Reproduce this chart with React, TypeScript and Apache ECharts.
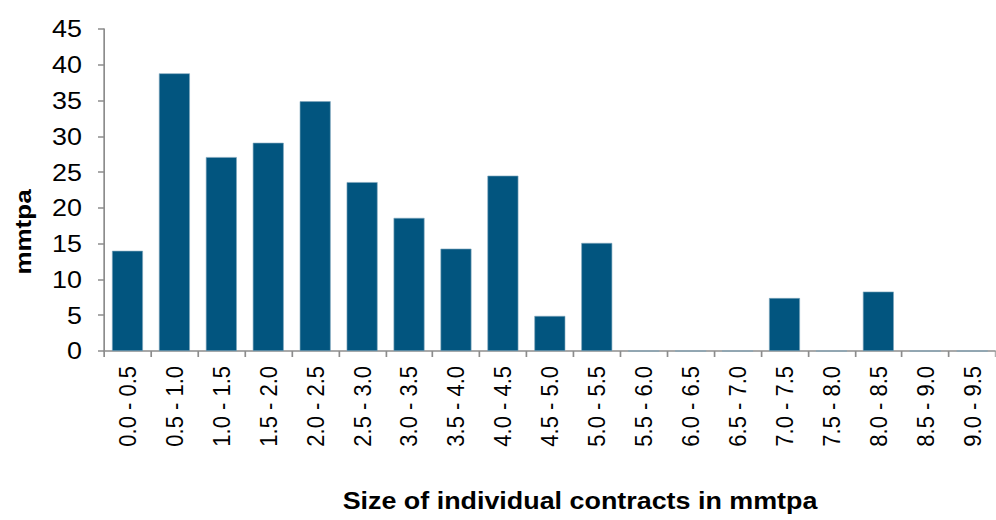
import React, { useEffect, useRef } from "react";
import * as echarts from "echarts";

const categories = [
  "0.0 - 0.5", "0.5 - 1.0", "1.0 - 1.5", "1.5 - 2.0", "2.0 - 2.5",
  "2.5 - 3.0", "3.0 - 3.5", "3.5 - 4.0", "4.0 - 4.5", "4.5 - 5.0",
  "5.0 - 5.5", "5.5 - 6.0", "6.0 - 6.5", "6.5 - 7.0", "7.0 - 7.5",
  "7.5 - 8.0", "8.0 - 8.5", "8.5 - 9.0", "9.0 - 9.5",
];
const values = [14, 38.8, 27.1, 29.1, 34.9, 23.6, 18.6, 14.3, 24.5, 4.9, 15.1, 0, 0, 0, 7.4, 0, 8.3, 0, 0];
const yTitle = "mmtpa";
const xTitle = "Size of individual contracts in mmtpa";

const FONT = "'Liberation Sans', Arial, sans-serif";
const S = 1.12; // horizontal stretch of the whole picture
const W = 996 / S;

export default function App() {
  const ref = useRef<HTMLDivElement>(null);
  useEffect(() => {
    const chart = echarts.init(ref.current!, null, { renderer: "svg" });
    chart.setOption({
      animation: false,
      grid: { left: 104 / S, top: 29, bottom: 169, right: W - 1009 / S, containLabel: false },
      xAxis: {
        type: "category",
        data: categories,
        axisLine: { lineStyle: { color: "#8c8c8c", width: 1.5 } },
        axisTick: { show: true, length: 6, lineStyle: { color: "#8c8c8c", width: 1.5 } },
        axisLabel: { rotate: 90, fontSize: 22, color: "#000", fontFamily: FONT, margin: 15, interval: 0 },
      },
      yAxis: {
        type: "value",
        min: 0,
        max: 45,
        interval: 5,
        splitLine: { show: false },
        axisLine: { show: true, lineStyle: { color: "#8c8c8c", width: 1.5 } },
        axisTick: { show: true, length: 6 / S, lineStyle: { color: "#8c8c8c", width: 1.5 } },
        axisLabel: { fontSize: 24, color: "#000", fontFamily: FONT, margin: 22 / S },
      },
      series: [
        {
          type: "bar",
          data: values,
          barCategoryGap: "34%",
          itemStyle: { color: "#02557f", borderColor: "#7fa6bd", borderWidth: 0.6 },
        },
      ],
      graphic: [
        {
          type: "text",
          x: 23 / S,
          y: 232,
          rotation: Math.PI / 2,
          scaleY: 0.75,
          style: {
            text: yTitle,
            font: `bold 26px ${FONT}`,
            fill: "#000",
            align: "center",
            verticalAlign: "middle",
          },
        },
        {
          type: "text",
          x: 580 / S,
          y: 501,
          style: {
            text: xTitle,
            font: `bold 24px ${FONT}`,
            fill: "#000",
            align: "center",
            verticalAlign: "middle",
          },
        },
      ],
    });
    return () => chart.dispose();
  }, []);
  return (
    <div style={{ position: "fixed", left: 0, top: 0, width: 996, height: 520, overflow: "hidden", background: "#fff" }}>
      <div
        ref={ref}
        style={{ width: W, height: 520, transform: `scaleX(${S})`, transformOrigin: "0 0" }}
      />
    </div>
  );
}
